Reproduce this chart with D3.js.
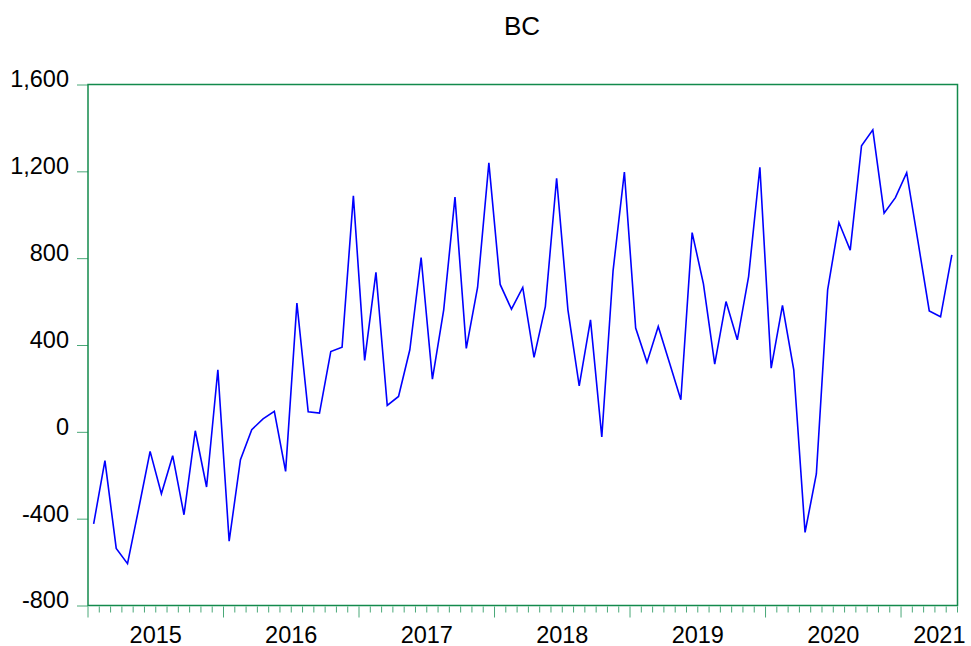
<!DOCTYPE html>
<html>
<head>
<meta charset="utf-8">
<script src="https://cdn.jsdelivr.net/npm/d3@7/dist/d3.min.js"></script>
<style>
  html, body { margin: 0; padding: 0; background: #fff; }
  svg { display: block; font-family: "Liberation Sans", Arial, sans-serif; }
</style>
</head>
<body>
<div id="chart"></div>
<script>
// monthly series BC, 2015M01 .. 2021M05
const startYear = 2015;
const yearLabels = ['2015', '2016', '2017', '2018', '2019', '2020', '2021'];
const yTicks = [-800, -400, 0, 400, 800, 1200, 1600];
const bcValues = [
  -424, -133, -537, -607, -351, -90, -285, -110, -382, 5, -254, 286,
  -504, -128, 10, 60, 94, -182, 593, 92, 86, 370, 390, 1087,
  329, 735, 122, 163, 378, 803, 243, 562, 1081, 384, 665, 1239,
  679, 565, 665, 343, 577, 1168, 562, 212, 516, -24, 743, 1197,
  478, 320, 485, 317, 148, 918, 682, 312, 600, 424, 715, 1219,
  293, 583, 286, -463, -194, 654, 964, 837, 1318, 1391, 1007, 1079,
  1194, 877, 557, 530, 815
];

const W = 971, H = 646;
const margin = { top: 84.5, right: 13.5, bottom: 40.5, left: 88 };
const width = W - margin.left - margin.right;
const height = H - margin.top - margin.bottom;
const frameColor = '#138a4c';
const tickColor = '#4aa878';

const svg = d3.select('#chart').append('svg')
  .attr('width', W)
  .attr('height', H);

svg.append('text')
  .attr('x', 522)
  .attr('y', 35)
  .attr('text-anchor', 'middle')
  .style('font-size', '26px')
  .attr('fill', '#000')
  .text('BC');

const g = svg.append('g')
  .attr('transform', `translate(${margin.left},${margin.top})`);

const n = bcValues.length;
const x = d3.scaleLinear().domain([0, n]).range([0, width]);
const y = d3.scaleLinear().domain([-800, 1600]).range([height, 0]);

// EViews style labels use a plain hyphen for negatives
const fmt = d => d3.format(',')(d).replace('\u2212', '-');

// y axis ticks + labels
g.append('g')
  .call(d3.axisLeft(y).tickValues(yTicks).tickSize(11).tickPadding(8).tickFormat(fmt))
  .call(s => s.select('.domain').remove())
  .call(s => s.selectAll('.tick line').attr('stroke', tickColor).attr('stroke-width', 1))
  .call(s => s.selectAll('.tick text')
    .attr('fill', '#000')
    .attr('dy', '0.1em')
    .style('font-size', '23.5px')
    .style('font-family', '"Liberation Sans", Arial, sans-serif'));

// x axis: month ticks, longer ticks at year boundaries
const monthTicks = d3.range(0, n + 1);
g.append('g')
  .attr('transform', `translate(0,${height})`)
  .selectAll('line')
  .data(monthTicks)
  .join('line')
  .attr('x1', d => x(d)).attr('x2', d => x(d))
  .attr('y1', 1)
  .attr('y2', d => (d % 12 === 0 ? 12 : 7))
  .attr('stroke', tickColor)
  .attr('stroke-width', 1);

g.append('g')
  .selectAll('text')
  .data(yearLabels)
  .join('text')
  .attr('x', (d, i) => {
    const s = i * 12, e = Math.min(n, s + 12);
    return e - s < 12 ? x(n) + 8 : x((s + e) / 2);
  })
  .attr('y', height + 37)
  .attr('text-anchor', (d, i) => (Math.min(n, i * 12 + 12) - i * 12 < 12 ? 'end' : 'middle'))
  .attr('fill', '#000')
  .style('font-size', '23.5px')
  .text(d => d);

// frame
g.append('rect')
  .attr('x', 0).attr('y', 0)
  .attr('width', width).attr('height', height)
  .attr('fill', 'none')
  .attr('stroke', frameColor)
  .attr('stroke-width', 1.5);

// series line
const line = d3.line()
  .x((d, i) => x(i + 0.5))
  .y(d => y(d));

g.append('path')
  .datum(bcValues)
  .attr('fill', 'none')
  .attr('stroke', '#0000ff')
  .attr('stroke-width', 1.6)
  .attr('stroke-linejoin', 'miter')
  .attr('d', line);
</script>
</body>
</html>
